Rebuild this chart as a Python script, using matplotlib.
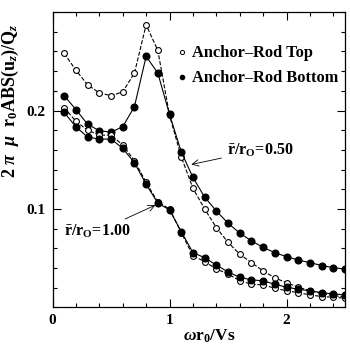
import numpy as np
import matplotlib
matplotlib.use("Agg")
import matplotlib.pyplot as plt
from matplotlib.ticker import MultipleLocator, FixedLocator, FixedFormatter

plt.rcParams['font.family'] = ['Liberation Serif', 'DejaVu Serif']
plt.rcParams['font.weight'] = 'bold'
plt.rcParams['mathtext.fontset'] = 'custom'
plt.rcParams['mathtext.rm'] = 'Liberation Serif:bold'
plt.rcParams['mathtext.it'] = 'Liberation Serif:italic:bold'
plt.rcParams['mathtext.bf'] = 'Liberation Serif:bold'

# frequency omega*r0/Vs
freq = [0.1, 0.2, 0.3, 0.4, 0.5, 0.6, 0.7, 0.8, 0.9, 1.0,
        1.1, 1.2, 1.3, 1.4, 1.5, 1.6, 1.7, 1.8, 1.9, 2.0,
        2.1, 2.2, 2.3, 2.4, 2.5]

# r/r0 = 0.50
top_050 = [0.258, 0.241, 0.226, 0.218, 0.215, 0.219, 0.238, 0.287, 0.261, 0.195,
           0.153, 0.121, 0.100, 0.081, 0.066, 0.054, 0.0455, 0.037, 0.030, 0.025,
           0.0205, 0.017, 0.014, 0.012, 0.0105]
bot_050 = [0.215, 0.201, 0.186, 0.1795, 0.178, 0.1835, 0.204, 0.255, 0.238, 0.196,
           0.158, 0.132, 0.112, 0.098, 0.0855, 0.0755, 0.0675, 0.061, 0.0555, 0.0516,
           0.048, 0.0455, 0.0425, 0.0404, 0.0388]

# r/r0 = 1.00
top_100 = [0.203, 0.189, 0.180, 0.175, 0.175, 0.165, 0.149, 0.127, 0.107, 0.100,
           0.076, 0.0525, 0.0465, 0.039, 0.034, 0.027, 0.0236, 0.0228, 0.0195, 0.0168,
           0.015, 0.0127, 0.011, 0.0104, 0.0093]
bot_100 = [0.198, 0.1835, 0.173, 0.171, 0.171, 0.1616, 0.147, 0.125, 0.106, 0.099,
           0.077, 0.0556, 0.0505, 0.043, 0.036, 0.0305, 0.028, 0.027, 0.0235, 0.0205,
           0.0185, 0.0168, 0.015, 0.0137, 0.0127]

fig = plt.figure(figsize=(3.5, 3.45), dpi=100)
ax = fig.add_axes([0.15, 0.109, 0.836, 0.856])

open_kw = dict(color='black', linestyle='--', linewidth=0.8, marker='o',
               markersize=4.2, markerfacecolor='white', markeredgewidth=0.8)
fill_kw = dict(color='black', linestyle='-', linewidth=0.8, marker='o',
               markersize=4.8, markerfacecolor='black')

ax.plot(freq, top_050, **open_kw)
ax.plot(freq, bot_050, **fill_kw)
ax.plot(freq, top_100, **open_kw)
ax.plot(freq, bot_100, **fill_kw)

# legend entries (markers only)
ax.plot([], [], 'o', color='black', markerfacecolor='white', markersize=3,
        markeredgewidth=0.7, label='Anchor\u2013Rod Top')
ax.plot([], [], 'o', color='black', markersize=3, label='Anchor\u2013Rod Bottom')
handles, labels = ax.get_legend_handles_labels()
ax.legend(handles, labels, loc='upper right', bbox_to_anchor=(1.005, 0.915),
          frameon=False, handlelength=0.5, handletextpad=0.35,
          labelspacing=0.55, borderaxespad=0.1,
          prop={'family': 'Liberation Serif', 'weight': 'bold', 'size': 11.8})

ax.set_xlim(0, 2.5)
ax.set_ylim(0, 0.3)

ax.xaxis.set_major_locator(FixedLocator([0, 1, 2]))
ax.xaxis.set_major_formatter(FixedFormatter(['0', '1', '2']))
ax.xaxis.set_minor_locator(MultipleLocator(0.2))
ax.yaxis.set_major_locator(FixedLocator([0.1, 0.2]))
ax.yaxis.set_major_formatter(FixedFormatter(['0.1', '0.2']))
ax.yaxis.set_minor_locator(MultipleLocator(0.02))

ax.tick_params(which='both', direction='in', top=True, right=True, width=0.8)
ax.tick_params(which='major', length=6, labelsize=11, pad=5)
ax.tick_params(which='minor', length=3)
for lab in ax.get_xticklabels() + ax.get_yticklabels():
    lab.set_fontweight('bold')
for s in ax.spines.values():
    s.set_linewidth(0.9)

ax.set_xlabel(r'$\omega$r$_0$/Vs', fontsize=12.5, fontweight='bold')
ax.xaxis.set_label_coords(0.535, -0.068)
ax.set_ylabel(r'2 $\pi$  $\mu$  r$_0$ABS(u$_z$)/Q$_z$', fontsize=13,
              fontweight='bold')
ax.yaxis.set_label_coords(-0.108, 0.70)

ax.annotate(r'$\bar{\rm r}$/r$_{\rm O}$=0.50', xy=(1.163, 0.1446), xytext=(1.49, 0.16),
            fontsize=11.5, fontweight='bold', va='center',
            arrowprops=dict(arrowstyle='->', color='black', lw=0.6))
ax.annotate(r'$\bar{\rm r}$/r$_{\rm O}$=1.00', xy=(0.9, 0.105), xytext=(0.1, 0.077),
            fontsize=11.5, fontweight='bold', va='center',
            arrowprops=dict(arrowstyle='->', color='black', lw=0.6))

fig.savefig('out.png', dpi=100)
